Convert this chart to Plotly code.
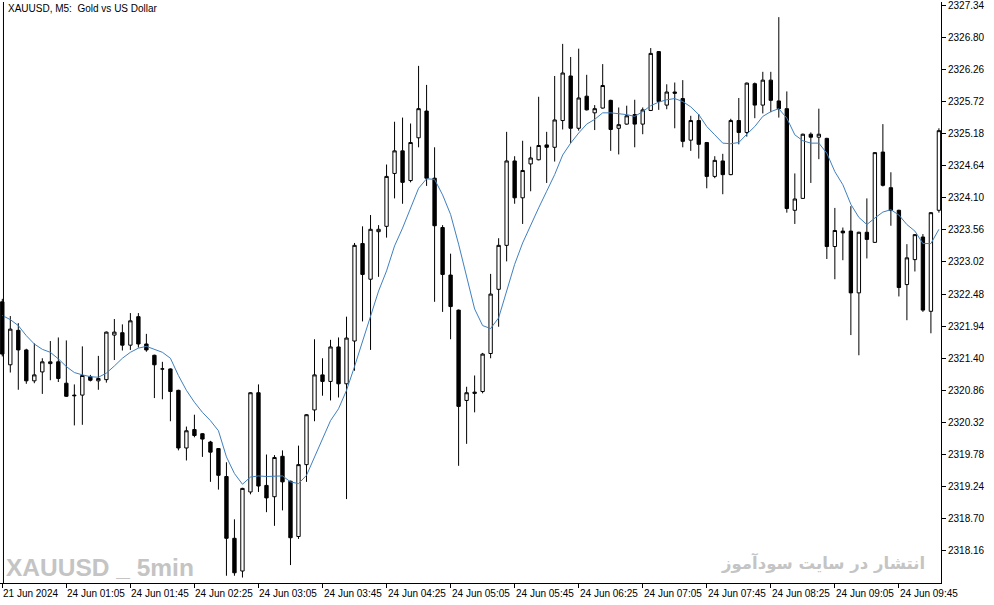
import plotly.graph_objects as go

# ---- data (XAUUSD M5) ----
opens = [2322.35, 2321.29, 2321.87, 2321.54, 2321.02, 2321.17, 2321.31, 2321.34, 2320.98, 2320.78,
         2320.78, 2321.09, 2321.02, 2321.04, 2321.79, 2321.83, 2321.62, 2322.10, 2321.64, 2321.45,
         2321.22, 2321.22, 2320.86, 2319.89, 2320.20, 2320.13, 2319.99, 2319.88, 2319.41, 2318.37,
         2317.82, 2319.15, 2320.82, 2319.26, 2319.07, 2319.75, 2319.33, 2318.40, 2319.61, 2320.53,
         2321.12, 2321.01, 2321.59, 2320.97, 2321.69, 2323.33, 2322.73, 2323.53, 2323.62, 2324.51,
         2324.89, 2324.39, 2325.11, 2325.56, 2324.43, 2323.60, 2322.80, 2322.21, 2320.69, 2320.83,
         2320.84, 2321.48, 2322.56, 2323.30, 2324.72, 2324.10, 2324.67, 2324.74, 2324.99, 2324.95,
         2325.40, 2326.15, 2325.27, 2325.81, 2325.53, 2325.61, 2325.74, 2325.27, 2325.34, 2325.50,
         2325.34, 2325.57, 2326.56, 2325.66, 2325.88, 2325.77, 2325.07, 2325.40, 2325.03, 2324.46,
         2324.72, 2324.49, 2325.40, 2325.20, 2326.02, 2325.66, 2326.08, 2325.73, 2325.60, 2323.89,
         2324.09, 2325.17, 2325.12, 2325.10, 2323.28, 2323.54, 2323.54, 2322.50, 2323.52, 2323.35,
         2324.87, 2324.27, 2323.89, 2322.64, 2323.06, 2323.44, 2322.19, 2323.89]
highs = [2322.40, 2322.11, 2321.99, 2321.56, 2321.65, 2321.40, 2321.69, 2321.75, 2321.70, 2320.96,
         2321.60, 2321.12, 2321.44, 2321.85, 2322.06, 2321.97, 2322.16, 2322.16, 2321.81, 2321.46,
         2321.34, 2321.23, 2320.87, 2320.25, 2320.45, 2320.14, 2320.01, 2319.89, 2319.65, 2318.69,
         2319.22, 2320.83, 2320.96, 2319.78, 2319.77, 2319.85, 2319.34, 2319.93, 2320.46, 2321.72,
         2321.40, 2321.71, 2321.75, 2322.10, 2323.34, 2323.62, 2323.81, 2323.64, 2324.66, 2325.38,
         2325.45, 2325.35, 2326.32, 2326.00, 2324.95, 2323.64, 2323.16, 2322.22, 2320.92, 2321.11,
         2321.49, 2322.82, 2323.42, 2325.21, 2324.80, 2325.06, 2324.96, 2325.80, 2325.21, 2326.15,
         2326.69, 2326.47, 2326.61, 2326.17, 2325.66, 2326.35, 2325.75, 2325.62, 2325.65, 2325.75,
         2325.62, 2326.62, 2326.57, 2326.01, 2326.04, 2326.08, 2325.48, 2325.51, 2325.04, 2324.80,
         2324.84, 2325.43, 2325.78, 2326.04, 2326.04, 2326.22, 2326.22, 2327.14, 2325.89, 2324.51,
         2325.18, 2325.20, 2325.60, 2325.11, 2323.93, 2323.60, 2323.96, 2323.53, 2324.09, 2324.87,
         2325.34, 2324.53, 2323.90, 2323.32, 2323.49, 2323.49, 2323.86, 2325.27]
lows = [2321.43, 2321.16, 2320.87, 2320.97, 2320.98, 2320.80, 2321.03, 2321.00, 2320.75, 2320.27,
        2320.28, 2321.01, 2320.87, 2320.99, 2321.37, 2321.53, 2321.54, 2321.58, 2321.51, 2320.73,
        2320.71, 2320.34, 2319.85, 2319.68, 2320.07, 2319.74, 2319.32, 2319.19, 2317.74, 2317.74,
        2317.71, 2319.11, 2319.15, 2318.81, 2318.58, 2318.84, 2317.92, 2318.36, 2319.32, 2320.34,
        2320.77, 2320.69, 2320.74, 2319.03, 2321.19, 2322.02, 2321.54, 2322.77, 2323.43, 2324.09,
        2324.00, 2324.36, 2324.95, 2324.30, 2322.35, 2322.18, 2321.72, 2319.59, 2319.96, 2320.49,
        2320.81, 2321.40, 2321.93, 2323.03, 2324.00, 2323.66, 2324.21, 2324.73, 2324.35, 2324.71,
        2325.25, 2325.02, 2325.23, 2325.57, 2325.24, 2325.60, 2324.89, 2324.83, 2325.33, 2324.95,
        2325.17, 2325.56, 2325.58, 2325.59, 2325.27, 2324.95, 2324.89, 2324.76, 2324.26, 2324.43,
        2324.16, 2324.48, 2325.00, 2325.13, 2325.44, 2325.52, 2325.54, 2325.45, 2323.85, 2323.66,
        2324.08, 2324.35, 2324.75, 2323.07, 2322.73, 2323.05, 2321.79, 2321.45, 2323.08, 2323.34,
        2324.29, 2323.63, 2322.44, 2322.04, 2322.86, 2322.18, 2321.82, 2323.85]
closes = [2321.47, 2321.89, 2321.54, 2321.02, 2321.12, 2321.34, 2321.34, 2321.06, 2320.76, 2320.77,
          2321.11, 2321.03, 2321.06, 2321.84, 2321.84, 2321.62, 2322.03, 2321.64, 2321.54, 2321.29,
          2321.22, 2320.84, 2319.89, 2320.18, 2320.10, 2320.04, 2319.82, 2319.43, 2318.37, 2317.79,
          2319.21, 2320.82, 2319.25, 2319.05, 2319.73, 2319.32, 2318.38, 2319.61, 2320.45, 2321.12,
          2321.01, 2321.59, 2320.97, 2321.74, 2323.30, 2322.81, 2323.57, 2323.57, 2324.46, 2324.89,
          2324.36, 2325.03, 2325.60, 2324.43, 2323.63, 2322.81, 2322.27, 2320.59, 2320.82, 2320.81,
          2321.47, 2322.48, 2323.30, 2324.72, 2324.10, 2324.56, 2324.77, 2324.98, 2324.95, 2325.41,
          2326.20, 2325.27, 2325.78, 2325.58, 2325.60, 2325.99, 2325.25, 2325.33, 2325.48, 2325.34,
          2325.58, 2326.53, 2325.72, 2325.88, 2325.86, 2325.05, 2325.40, 2325.00, 2324.46, 2324.73,
          2324.49, 2325.40, 2325.20, 2326.03, 2325.66, 2326.08, 2325.74, 2325.60, 2323.92, 2324.08,
          2325.17, 2325.12, 2325.17, 2323.28, 2323.55, 2323.51, 2322.50, 2323.52, 2323.40, 2324.86,
          2324.31, 2323.89, 2322.59, 2323.09, 2323.48, 2322.21, 2323.85, 2325.23]
ma_line = [2322.12, 2322.05, 2321.95, 2321.78, 2321.64, 2321.55, 2321.50, 2321.39, 2321.26, 2321.16,
           2321.12, 2321.09, 2321.08, 2321.15, 2321.27, 2321.40, 2321.50, 2321.57, 2321.60, 2321.55,
           2321.50, 2321.40, 2321.11, 2320.86, 2320.66, 2320.49, 2320.35, 2320.18, 2319.74, 2319.46,
           2319.28, 2319.40, 2319.42, 2319.41, 2319.42, 2319.42, 2319.32, 2319.29, 2319.43, 2319.74,
           2320.02, 2320.35, 2320.55, 2320.86, 2321.26, 2321.69, 2322.08, 2322.53, 2322.87, 2323.29,
           2323.59, 2323.93, 2324.26, 2324.42, 2324.41, 2324.15, 2323.82, 2323.32, 2322.75, 2322.23,
           2321.95, 2321.90, 2322.08, 2322.53, 2322.98, 2323.34, 2323.65, 2323.93, 2324.21, 2324.49,
           2324.82, 2325.02, 2325.19, 2325.34, 2325.42, 2325.53, 2325.53, 2325.52, 2325.50, 2325.47,
           2325.55, 2325.65, 2325.71, 2325.75, 2325.77, 2325.72, 2325.63, 2325.50, 2325.30, 2325.16,
           2325.02, 2325.01, 2325.03, 2325.17, 2325.30, 2325.47, 2325.55, 2325.60, 2325.44, 2325.16,
           2325.06, 2325.02, 2325.02, 2324.85, 2324.54, 2324.32, 2323.99, 2323.77, 2323.65, 2323.76,
           2323.86, 2323.90, 2323.81, 2323.65, 2323.54, 2323.33, 2323.33, 2323.57]

time_label_bars = [0, 8, 16, 24, 32, 40, 48, 56, 64, 72, 80, 88, 96, 104, 112]
time_labels = ["21 Jun 2024", "24 Jun 01:05", "24 Jun 01:45", "24 Jun 02:25", "24 Jun 03:05",
               "24 Jun 03:45", "24 Jun 04:25", "24 Jun 05:05", "24 Jun 05:45", "24 Jun 06:25",
               "24 Jun 07:05", "24 Jun 07:45", "24 Jun 08:25", "24 Jun 09:05", "24 Jun 09:45"]
price_ticks = [2318.16, 2318.70, 2319.24, 2319.78, 2320.32, 2320.86, 2321.40, 2321.94, 2322.48,
               2323.02, 2323.56, 2324.10, 2324.64, 2325.18, 2325.72, 2326.26, 2326.80, 2327.34]

bars = list(range(len(opens)))

fig = go.Figure()
fig.add_trace(go.Candlestick(
    x=bars, open=opens, high=highs, low=lows, close=closes,
    increasing=dict(line=dict(color="black", width=1), fillcolor="white"),
    decreasing=dict(line=dict(color="black", width=1), fillcolor="black"),
    whiskerwidth=0, showlegend=False, hoverinfo="skip",
))
fig.add_trace(go.Scatter(
    x=bars, y=ma_line, mode="lines",
    line=dict(color="#3f80c0", width=1), showlegend=False, hoverinfo="skip",
))

annotations = []
for b, t in zip(time_label_bars, time_labels):
    annotations.append(dict(x=b, y=0, xref="x", yref="paper", text=t, showarrow=False,
                            xanchor="left", yanchor="top", xshift=-1, yshift=-3,
                            font=dict(family="Liberation Sans", size=10, color="black")))
annotations.append(dict(x=0.006, y=1, xref="paper", yref="paper", text="XAUUSD, M5:  Gold vs US Dollar",
                        showarrow=False, xanchor="left", yanchor="top", yshift=1,
                        font=dict(family="Liberation Sans", size=10, color="black")))
annotations.append(dict(x=0.004, y=0.0, xref="paper", yref="paper", text="<b>XAUUSD _ 5min</b>",
                        showarrow=False, xanchor="left", yanchor="bottom",
                        font=dict(family="Liberation Sans", size=24.5, color="#c4c4c4")))
annotations.append(dict(x=0.985, y=0.012, xref="paper", yref="paper", text="<b>انتشار در سایت سودآموز</b>",
                        showarrow=False, xanchor="right", yanchor="bottom",
                        font=dict(family="DejaVu Sans", size=16.5, color="#c4c4c4")))

fig.update_layout(
    width=994, height=605,
    margin=dict(l=0, r=53, t=0, b=22),
    paper_bgcolor="white", plot_bgcolor="white",
    boxgap=0.4,
    annotations=annotations,
    shapes=[dict(type="line", xref="paper", yref="paper", x0=0.0037, x1=0.0037, y0=0, y1=1,
                 line=dict(color="black", width=1))],
    xaxis=dict(range=[-0.287, 117.26], rangeslider=dict(visible=False), showgrid=False,
               zeroline=False, showline=True, linecolor="black", linewidth=1,
               tickmode="array", tickvals=time_label_bars, ticks="outside", ticklen=4,
               tickcolor="black", showticklabels=False, fixedrange=True),
    yaxis=dict(range=[2317.618, 2327.395], side="right", showgrid=False, zeroline=False,
               showline=True, linecolor="black", linewidth=1, tickmode="array",
               tickvals=price_ticks, ticktext=[f"{v:.2f}" for v in price_ticks],
               ticks="outside", ticklen=4, tickcolor="black", ticklabeloverflow="allow",
               tickfont=dict(family="Liberation Sans", size=10, color="black")),
)

fig.write_html("out.html", config={"displayModeBar": False},
               post_script="document.body.style.margin='0';")
